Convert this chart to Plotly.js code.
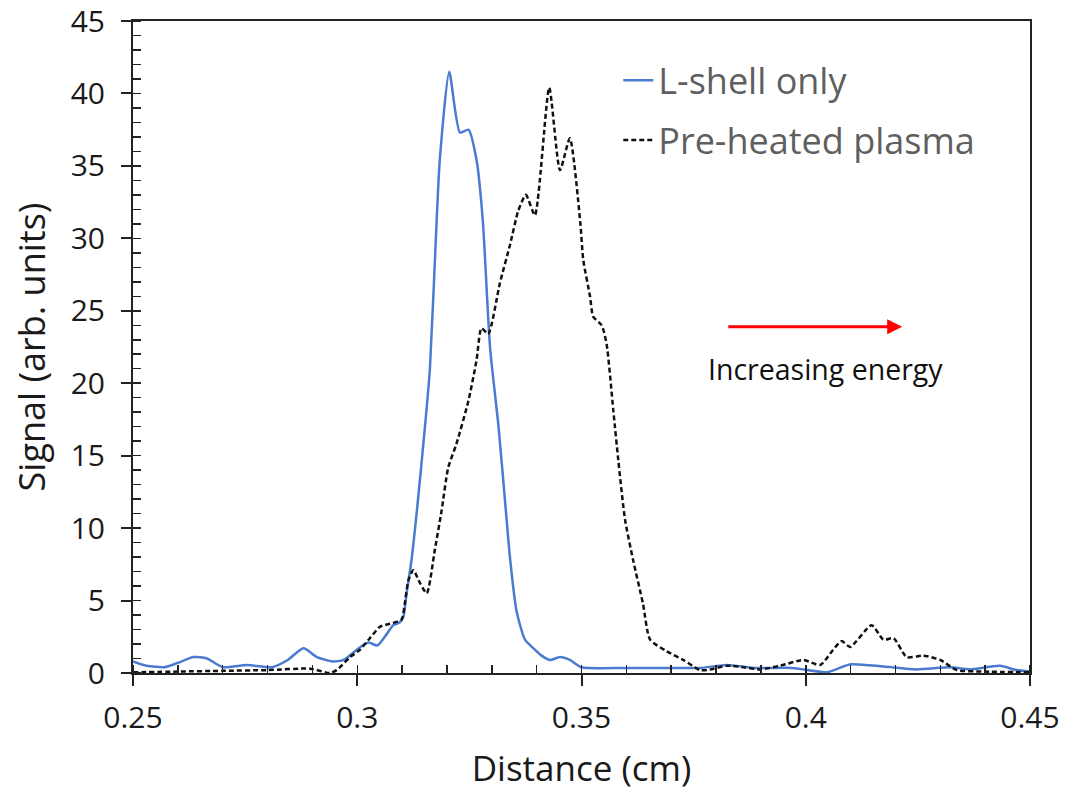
<!DOCTYPE html>
<html>
<head>
<meta charset="utf-8">
<script src="https://cdn.plot.ly/plotly-3.0.1.min.js"></script>
<style>html,body{margin:0;padding:0;background:#fff;}#chart{width:1079px;height:791px;}</style>
</head>
<body>
<div id="chart"></div>
<script>
// L-shell only (blue solid)
const lshellX = [0.250,0.253,0.257,0.260,0.2635,0.2665,0.270,0.2755,0.281,0.2845,0.288,0.291,0.2945,0.297,0.3003,0.3025,0.3045,0.3066,0.3080,0.3095,0.3103,0.3110,0.3121,0.3133,0.3151,0.3162,0.3177,0.3184,0.3205,0.3229,0.3248,0.3266,0.3280,0.3296,0.3315,0.3333,0.3341,0.3355,0.3374,0.3393,0.3411,0.3430,0.3452,0.3474,0.350,0.360,0.370,0.3764,0.3824,0.3884,0.397,0.4047,0.410,0.4173,0.4247,0.4322,0.4366,0.4433,0.447,0.450];
const lshellY = [0.8,0.5,0.4,0.7,1.1,1.0,0.4,0.55,0.4,0.9,1.7,1.1,0.8,0.9,1.7,2.1,1.9,2.7,3.3,3.5,3.9,5.5,7.8,11.2,17.0,21.0,31.2,35.4,41.5,37.3,37.5,35.4,31.2,22.5,17.0,10.6,7.8,4.3,2.3,1.7,1.2,0.9,1.1,0.9,0.4,0.35,0.35,0.35,0.55,0.35,0.35,0.05,0.6,0.45,0.25,0.4,0.25,0.5,0.2,0.1];

// Pre-heated plasma (black dashed)
const plasmaX = [0.250,0.260,0.270,0.280,0.2895,0.2939,0.2954,0.2984,0.3006,0.3028,0.3051,0.3073,0.3099,0.3106,0.3114,0.3125,0.3140,0.3155,0.3173,0.3188,0.3203,0.3221,0.3248,0.3266,0.3277,0.3292,0.3318,0.3341,0.3359,0.3376,0.3396,0.3428,0.3452,0.3474,0.3497,0.3504,0.3519,0.3526,0.3545,0.3556,0.3571,0.3582,0.3597,0.3615,0.3637,0.3653,0.369,0.3727,0.3764,0.378,0.3824,0.3861,0.3898,0.3943,0.3995,0.4032,0.4061,0.408,0.4099,0.4147,0.4173,0.4196,0.4225,0.4262,0.430,0.4337,0.4396,0.450];
const plasmaY = [0.05,0.1,0.15,0.2,0.3,0.0,0.2,1.1,1.6,2.4,3.2,3.4,3.7,4.8,6.4,7.1,6.2,5.5,8.5,11.2,14.2,15.8,18.8,21.6,23.8,23.4,26.9,29.6,31.9,33.0,31.6,40.4,34.7,36.9,31.2,28.5,26.0,24.6,24.0,22.7,18.1,14.7,10.6,7.8,4.8,2.3,1.5,0.9,0.2,0.2,0.5,0.4,0.25,0.5,0.9,0.55,1.6,2.2,1.8,3.3,2.3,2.4,1.1,1.2,0.9,0.2,0.1,0.05];

const seriesNames = ["L-shell only", "Pre-heated plasma"];
const xTickVals = [0.25,0.30,0.35,0.40,0.45];
const xTickText = ["0.25","0.3","0.35","0.4","0.45"];
const yTickVals = [0,5,10,15,20,25,30,35,40,45];
const arrowStartX = 0.3824, arrowEndX = 0.4215, arrowY = 23.9;
const noteText = "Increasing energy";
const noteX = 0.4045, noteY = 21.0;

const FONT = "Open Sans, Liberation Sans, sans-serif";

const traces = [
  {x: lshellX, y: lshellY, type: "scatter", mode: "lines", name: seriesNames[0],
   legendgroup: "a",
   line: {color: "#4a7bd0", width: 2.5, shape: "spline", smoothing: 0.6}},
  {x: plasmaX, y: plasmaY, type: "scatter", mode: "lines", name: seriesNames[1],
   legendgroup: "b",
   line: {color: "#111111", width: 2.5, dash: "5px,3px", shape: "spline", smoothing: 0.6}}
];

const layout = {
  width: 1079, height: 791,
  margin: {l: 133, r: 49, t: 21, b: 118},
  paper_bgcolor: "#ffffff", plot_bgcolor: "#ffffff",
  font: {family: FONT, color: "#1a1a1a"},
  showlegend: true,
  legend: {x: 0.541, y: 0.955, xanchor: "left", yanchor: "top",
    font: {family: FONT, size: 36, color: "#5f5f5f"},
    bgcolor: "rgba(0,0,0,0)", borderwidth: 0,
    traceorder: "grouped", tracegroupgap: 10, itemwidth: 30},
  xaxis: {range: [0.25, 0.45], tickvals: xTickVals, ticktext: xTickText,
    showgrid: false, zeroline: false,
    showline: true, linecolor: "#222", linewidth: 2, mirror: true,
    ticks: "outside", ticklen: 11, tickwidth: 2, tickcolor: "#222",
    ticklabelstandoff: 6, ticklabeloverflow: "allow",
    tickfont: {family: FONT, size: 30, color: "#1a1a1a"},
    minor: {dtick: 0.01, tick0: 0.25, ticks: "inside", ticklen: 8, tickwidth: 1.5, tickcolor: "#222", showgrid: false},
    title: {text: "Distance (cm)", font: {family: FONT, size: 35, color: "#1a1a1a"}, standoff: 22},
    automargin: false},
  yaxis: {range: [0, 45], tickvals: yTickVals,
    showgrid: false, zeroline: false,
    showline: true, linecolor: "#222", linewidth: 2, mirror: true,
    ticks: "outside", ticklen: 10, tickwidth: 2, tickcolor: "#222",
    ticklabelstandoff: 10, ticklabeloverflow: "allow",
    tickfont: {family: FONT, size: 30, color: "#1a1a1a"},
    minor: {dtick: 1, tick0: 0, ticks: "inside", ticklen: 8, tickwidth: 1.5, tickcolor: "#222", showgrid: false},
    title: {text: "Signal (arb. units)", font: {family: FONT, size: 36, color: "#1a1a1a"}, standoff: 14},
    automargin: false},
  xaxis2: {overlaying: "x", matches: "x", anchor: "y", side: "bottom",
    tickvals: xTickVals, showticklabels: false, showgrid: false, zeroline: false, showline: false,
    ticks: "inside", ticklen: 9, tickwidth: 2, tickcolor: "#222"},
  yaxis2: {overlaying: "y", matches: "y", anchor: "x", side: "left",
    tickvals: yTickVals, showticklabels: false, showgrid: false, zeroline: false, showline: false,
    ticks: "inside", ticklen: 10, tickwidth: 2, tickcolor: "#222"},
  annotations: [
    {x: arrowEndX, y: arrowY, ax: arrowStartX, ay: arrowY, xref: "x", yref: "y", axref: "x", ayref: "y",
     text: "", showarrow: true, arrowhead: 2, arrowsize: 1, arrowwidth: 3, arrowcolor: "#ff0000"},
    {x: noteX, y: noteY, xref: "x", yref: "y", text: noteText, showarrow: false,
     font: {family: FONT, size: 28.5, color: "#111"}}
  ]
};

Plotly.newPlot("chart", traces, layout, {staticPlot: true, displayModeBar: false});
</script>
</body>
</html>
